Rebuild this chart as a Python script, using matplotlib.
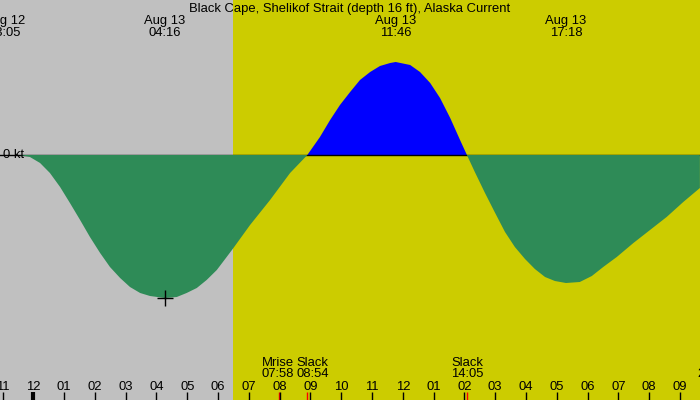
import matplotlib
matplotlib.use('Agg')
import matplotlib.pyplot as plt
import matplotlib.transforms as mtransforms
import numpy as np

plt.rcParams['font.family'] = ['Liberation Sans', 'DejaVu Sans']

title = "Black Cape, Shelikof Strait (depth 16 ft), Alaska Current"

# hours since Aug 13 00:00, current in knots (flood positive, ebb negative)
hours = [-1.08, -0.43, -0.11, 0.22, 0.54, 0.87, 1.19, 1.52, 1.84, 2.17, 2.49,
         2.82, 3.14, 3.47, 3.79, 4.27, 4.66, 4.98, 5.31, 5.63, 5.96, 6.28, 6.50,
         7.04, 7.69, 8.34, 8.90,
         9.31, 9.64, 9.96, 10.29, 10.61, 10.94, 11.26, 11.59, 11.77, 12.24, 12.56,
         12.89, 13.21, 13.54, 13.86, 14.083,
         14.34, 14.67, 15.00, 15.32, 15.64, 15.97, 16.29, 16.62, 16.94, 17.30,
         17.75, 18.14, 18.51, 18.95, 19.49, 20.03, 20.57, 21.11, 21.65]
speed = [0.0, 0.0, -0.02, -0.08, -0.18, -0.32, -0.48, -0.65, -0.82, -0.98, -1.12,
         -1.23, -1.32, -1.38, -1.41, -1.43, -1.42, -1.38, -1.33, -1.25, -1.15, -1.02, -0.93,
         -0.70, -0.45, -0.18, 0.0,
         0.18, 0.35, 0.50, 0.63, 0.75, 0.83, 0.89, 0.92, 0.93, 0.90, 0.83,
         0.72, 0.57, 0.37, 0.15, 0.0,
         -0.17, -0.38, -0.58, -0.77, -0.92, -1.04, -1.14, -1.22, -1.26, -1.28,
         -1.27, -1.21, -1.12, -1.02, -0.88, -0.75, -0.62, -0.47, -0.33]

sunrise = 6.49
sunset = 22.5

max_time = 4.27
max_speed = -1.43

top_labels = [("Aug 12", "23:05", -0.92), ("Aug 13", "04:16", 4.27),
              ("Aug 13", "11:46", 11.77), ("Aug 13", "17:18", 17.30)]
event_names = ["Mrise", "Slack", "Slack", "Mset"]
event_times_txt = ["07:58", "08:54", "14:05", "22:05"]
event_hours = [7.967, 8.90, 14.083, 22.08]
event_shift_px = [-1, 5, 0, 0]

hour_ticks = list(range(-1, 22))
hour_labels = ["11", "12", "01", "02", "03", "04", "05", "06", "07", "08", "09", "10",
               "11", "12", "01", "02", "03", "04", "05", "06", "07", "08", "09"]

W, H = 700, 400
px_per_hour = 30.79
x0_px = 33.3
zero_px = 155
px_per_kt = 100.0

fig = plt.figure(figsize=(7, 4), dpi=100)
ax = fig.add_axes([0, 0, 1, 1])
ax.set_xlim(-x0_px / px_per_hour, (W - x0_px) / px_per_hour)
ax.set_ylim((zero_px - H) / px_per_kt, zero_px / px_per_kt)
ax.set_axis_off()

gray = '#C0C0C0'
yellow = '#CCCC00'
ax.axvspan(ax.get_xlim()[0], sunrise, color=gray, zorder=0, lw=0)
ax.axvspan(sunrise, sunset, color=yellow, zorder=0, lw=0)

h = np.array(hours)
s = np.array(speed)
ax.fill_between(h, s, 0, where=s >= 0, interpolate=True, color='#0000FF', lw=0, zorder=1)
ax.axhline(0, color='black', lw=1, zorder=2)
ax.fill_between(h, s, 0, where=s <= 0, interpolate=True, color='#2E8B57', lw=0, zorder=3)

ax.plot([max_time], [max_speed], marker='+', color='black', ms=11, mew=1, zorder=5)

trans = mtransforms.blended_transform_factory(ax.transData, ax.transAxes)


def yf(ypix):
    return 1 - ypix / H


fs = 9.4
fig.text(0.5, yf(12), title, ha='center', va='baseline', fontsize=fs)

for d, t, hr in top_labels:
    ax.text(hr, yf(24), d, transform=trans, ha='center', va='baseline', fontsize=fs, zorder=6)
    ax.text(hr, yf(36), t, transform=trans, ha='center', va='baseline', fontsize=fs, zorder=6)

for name, t, hr, sh in zip(event_names, event_times_txt, event_hours, event_shift_px):
    xx = hr + sh / px_per_hour
    ax.text(xx, yf(366), name, transform=trans, ha='center', va='baseline', fontsize=fs, zorder=6)
    ax.text(xx, yf(377), t, transform=trans, ha='center', va='baseline', fontsize=fs, zorder=6)
    ax.vlines(hr, 0, 8 / H, transform=trans, color='red', lw=1, zorder=6)

for hr, lab in zip(hour_ticks, hour_labels):
    ax.text(hr, yf(390), lab, transform=trans, ha='center', va='baseline', fontsize=fs, zorder=6)
    ax.vlines(hr, 0, 8 / H, transform=trans, color='black', lw=3 if hr == 0 else 1, zorder=7)

ax.text(-x0_px / px_per_hour + 2.7 / px_per_hour, 0, "0 kt", ha='left', va='center',
        fontsize=fs, zorder=6)

fig.savefig('out.png', dpi=100)
